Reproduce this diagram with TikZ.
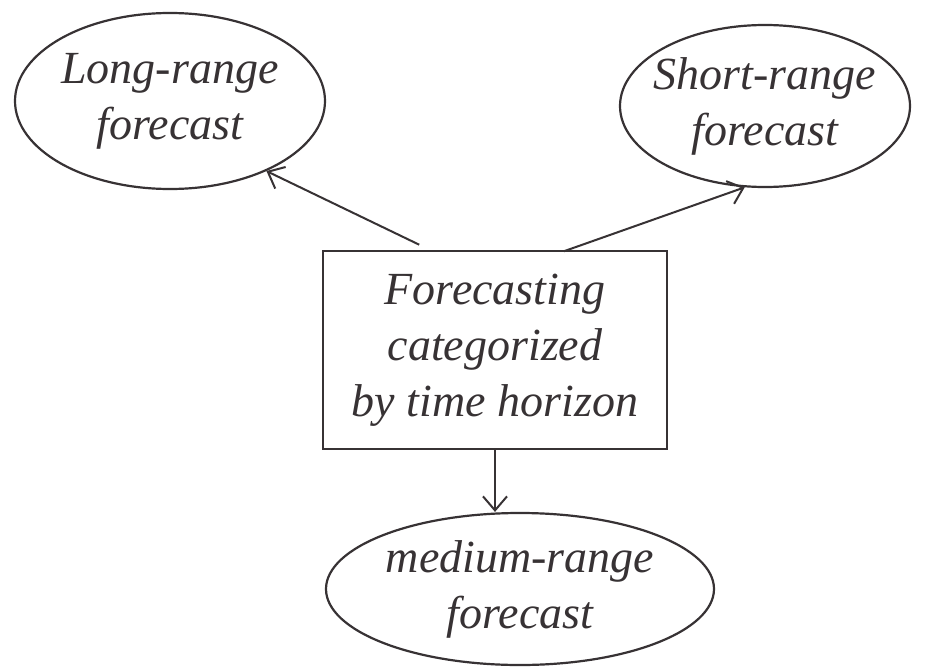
\documentclass[tikz,border=0pt]{standalone}
\usepackage{fontspec}
\setmainfont{Liberation Serif}
\usetikzlibrary{shapes.geometric,arrows.meta}
\definecolor{ink}{RGB}{55,50,52}
\begin{document}
\begin{tikzpicture}[x=1pt,y=-1pt,
  words/.style={text=ink,font=\itshape\fontsize{46}{56}\selectfont,align=center,inner sep=0pt},
  bubble/.style={ellipse,draw=ink,line width=2.2pt,inner sep=0pt},
  topicbox/.style={rectangle,draw=ink,line width=2.2pt,inner sep=0pt},
  link/.style={draw=ink,line width=2pt,-{Straight Barb[length=14pt,width=24pt,line width=2pt]}}]
  \fill[white] (0,0) rectangle (937,669);
  \useasboundingbox (0,0) rectangle (937,669);

  % outcome categories
  \node[bubble,minimum width=310pt,minimum height=176pt] (long) at (170,101) {};
  \node[words] (longtext) at (long) {Long-range\\forecast};
  \node[bubble,minimum width=290pt,minimum height=162pt] (short) at (765,106) {};
  \node[words] (shorttext) at (short) {Short-range\\forecast};
  \node[bubble,minimum width=388pt,minimum height=152pt] (medium) at (520,589) {};
  \node[words] (mediumtext) at (medium) {medium-range\\forecast};

  % central topic
  \node[topicbox,minimum width=344pt,minimum height=198pt] (topic) at (495,350) {};
  \node[words] (topictext) at (topic) {Forecasting\\categorized\\by time horizon};

  % connectors
  \draw[link,shorten <=12pt] (topic.123) -- (long.-36);
  \draw[link,shorten <=-4pt] (topic.54) -- (short.256);
  \draw[link] (topic.south) -- (topic.south |- medium.north);
\end{tikzpicture}
\end{document}
